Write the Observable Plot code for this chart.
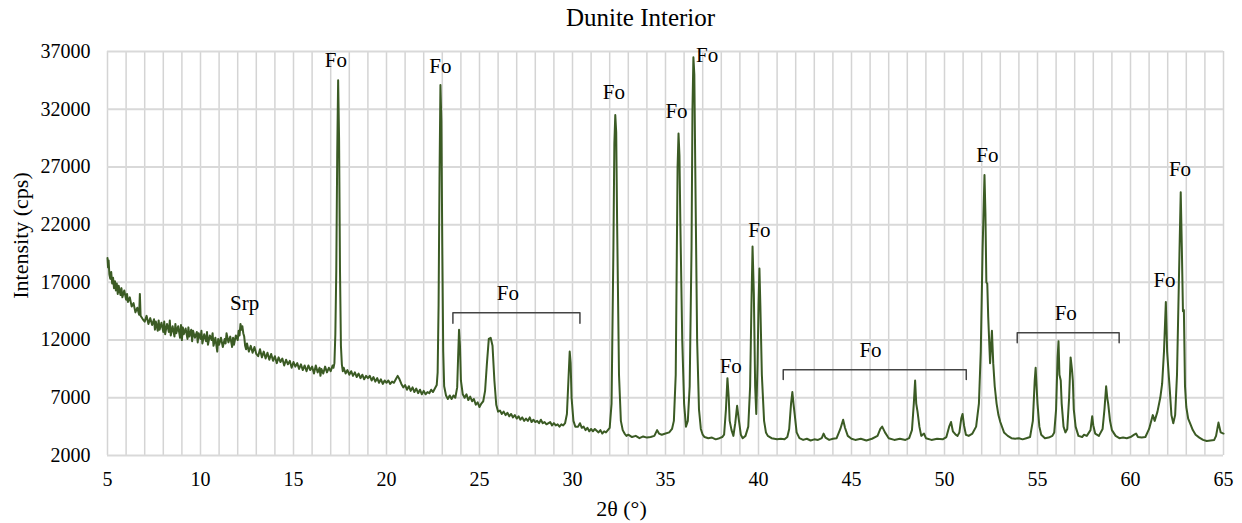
<!DOCTYPE html>
<html><head><meta charset="utf-8">
<script src="https://cdn.jsdelivr.net/npm/d3@7"></script>
<script src="https://cdn.jsdelivr.net/npm/@observablehq/plot@0.6"></script>
<style>body{margin:0;background:#fff;}</style>
</head><body><div id="chart"></div>
<script>
// 2θ (°), intensity (cps)
const seg5to17 = [[5.00,19100],[5.03,18300],[5.06,18900],[5.10,17700],[5.15,17300],[5.20,17900],[5.25,16900],[5.30,17400],[5.35,16500],[5.40,17100],[5.45,16300],[5.50,16900],[5.55,16000],[5.60,16700],[5.70,15900],[5.75,16500],[5.80,15700],[5.90,16300],[6.00,15500],[6.05,16000],[6.10,15300],[6.20,15700],[6.30,14900],[6.40,15200],[6.50,14400],[6.60,14800],[6.70,14200],[6.74,16000],[6.78,14100],[6.90,13800],[7.00,13600],[7.10,14100],[7.20,13400],[7.30,13900],[7.40,13300],[7.50,13800],[7.55,12900],[7.60,13600],[7.70,12800],[7.75,13700],[7.80,12900],[7.90,13500],[8.00,12700],[8.05,13600],[8.10,12500],[8.20,13400],[8.30,12700],[8.35,13700],[8.40,12400],[8.50,13200],[8.60,12300],[8.65,13400],[8.70,12600],[8.80,13200],[8.90,12200],[8.95,13300],[9.00,12000],[9.05,13100],[9.10,12500],[9.20,13000],[9.30,12100],[9.35,13100],[9.40,12300],[9.50,12900],[9.55,11900],[9.60,12800],[9.70,12200],[9.80,12700],[9.85,11800],[9.90,12600],[10.00,12100],[10.05,12800],[10.10,11700],[10.20,12500],[10.30,11900],[10.35,12700],[10.40,11600],[10.50,12400],[10.60,12000],[10.65,12600],[10.70,11500],[10.80,12200],[10.90,11000],[10.95,12100],[11.00,11600],[11.10,12200],[11.20,11400],[11.30,12100],[11.35,11700],[11.40,12600],[11.50,11800],[11.60,12300],[11.70,11400],[11.75,12200],[11.80,11600],[11.90,12400],[12.00,12000],[12.05,12800],[12.10,12400],[12.15,13400],[12.20,12900],[12.25,13200],[12.30,12600],[12.35,12300],[12.40,11500],[12.45,11200],[12.50,11700],[12.60,11000],[12.70,11500],[12.80,10900],[12.90,11400],[13.00,10800],[13.10,10600],[13.20,11200],[13.30,10500],[13.40,11000],[13.50,10400],[13.60,10900],[13.70,10300],[13.80,10800],[13.90,10200],[14.00,10600],[14.10,10000],[14.20,10500],[14.30,10100],[14.40,10400],[14.50,9800],[14.60,10300],[14.70,9900],[14.80,10200],[14.90,9600],[15.00,10100],[15.10,9700],[15.20,10000],[15.30,9500],[15.40,9900],[15.50,9400],[15.60,9800],[15.70,9300],[15.80,9800],[15.90,9400],[16.00,9700],[16.10,9100],[16.20,9800],[16.30,9200],[16.40,9600],[16.45,8900],[16.50,9500],[16.60,9100],[16.70,9700],[16.80,9200],[16.90,9600],[17.00,9300],[17.10,9800],[17.15,9600]];
const seg17to23 = [[17.20,10000],[17.25,12500],[17.30,18000],[17.35,28000],[17.40,34500],[17.45,29500],[17.50,18000],[17.55,11500],[17.60,9900],[17.65,9300],[17.70,9600],[17.80,9100],[17.90,9400],[18.00,9000],[18.10,9300],[18.20,8900],[18.30,9200],[18.40,8800],[18.50,9100],[18.60,8700],[18.70,9000],[18.80,8600],[18.90,8900],[19.00,8700],[19.10,8900],[19.20,8500],[19.30,8800],[19.40,8400],[19.50,8700],[19.60,8300],[19.70,8600],[19.80,8200],[19.90,8500],[20.00,8300],[20.10,8500],[20.20,8200],[20.30,8400],[20.40,8300],[20.50,8600],[20.60,8900],[20.70,8600],[20.80,8200],[20.90,7900],[21.00,8100],[21.10,7700],[21.20,8000],[21.30,7600],[21.40,7900],[21.50,7500],[21.60,7800],[21.70,7400],[21.80,7700],[21.90,7300],[22.00,7600],[22.10,7300],[22.20,7500],[22.30,7400],[22.40,7700],[22.50,7500],[22.60,7800],[22.70,8100],[22.75,9200],[22.80,15000],[22.85,26000],[22.90,34100],[22.95,31000],[23.00,20000],[23.05,11000]];
const seg23to32 = [[23.10,8000],[23.20,7200],[23.30,6900],[23.40,7200],[23.50,6900],[23.60,7200],[23.70,7000],[23.80,7900],[23.85,10500],[23.90,12900],[23.95,11500],[24.00,8500],[24.10,7300],[24.20,7000],[24.30,7300],[24.40,6800],[24.50,7100],[24.60,6700],[24.70,6900],[24.80,6400],[24.90,6600],[25.00,6200],[25.10,6500],[25.20,6700],[25.30,7600],[25.40,10000],[25.50,12100],[25.60,12200],[25.70,11500],[25.80,8500],[25.90,6400],[26.00,5800],[26.10,5900],[26.20,5600],[26.30,5800],[26.40,5500],[26.50,5700],[26.60,5400],[26.70,5600],[26.80,5300],[26.90,5500],[27.00,5200],[27.10,5400],[27.20,5100],[27.30,5300],[27.40,5000],[27.50,5200],[27.60,5000],[27.70,5300],[27.80,4900],[27.90,5100],[28.00,4900],[28.10,5000],[28.20,4800],[28.30,5100],[28.40,4800],[28.50,4900],[28.60,4700],[28.80,4900],[28.90,4600],[29.00,4800],[29.10,4600],[29.20,4700],[29.30,4500],[29.40,4700],[29.50,4600],[29.60,4800],[29.70,5600],[29.78,8500],[29.85,11000],[29.90,10000],[29.95,7000],[30.05,5000],[30.15,4500],[30.30,4500],[30.40,4800],[30.50,4400],[30.60,4500],[30.70,4200],[30.80,4400],[30.90,4100],[31.00,4300],[31.10,4100],[31.20,4300],[31.40,4000],[31.50,4200],[31.60,3900],[31.70,4100],[31.80,4000],[31.90,4200]];
const seg32to41 = [[32.00,4400],[32.10,6500],[32.20,20000],[32.25,29000],[32.30,31500],[32.35,30000],[32.40,22000],[32.50,9000],[32.60,5000],[32.70,4200],[32.80,3900],[32.90,3700],[33.00,3800],[33.20,3600],[33.40,3700],[33.60,3500],[33.80,3650],[34.00,3550],[34.20,3600],[34.40,3700],[34.55,4200],[34.65,3900],[34.80,3800],[35.00,3900],[35.20,4000],[35.35,4300],[35.45,5000],[35.55,9000],[35.60,18000],[35.65,27000],[35.70,29900],[35.75,28000],[35.80,22000],[35.90,12000],[36.00,6500],[36.10,4500],[36.20,5000],[36.30,8000],[36.40,20000],[36.45,32000],[36.50,36500],[36.55,35000],[36.60,27000],[36.70,12000],[36.80,6000],[36.90,4300],[37.00,3800],[37.10,3600],[37.30,3500],[37.50,3550],[37.70,3400],[37.90,3500],[38.05,3600],[38.15,3800],[38.25,6000],[38.33,8700],[38.40,7000],[38.45,5000],[38.55,4200],[38.65,3700],[38.75,4800],[38.85,6300],[38.95,5000],[39.05,3800],[39.15,3500],[39.30,3700],[39.45,4500],[39.55,8000],[39.62,15000],[39.68,20100],[39.75,16000],[39.82,8000],[39.88,5600],[39.95,10000],[40.00,15000],[40.05,18200],[40.10,15000],[40.18,9000],[40.30,5000],[40.40,4000],[40.50,3700],[40.70,3500],[40.85,3450],[41.00,3400],[41.20,3450]];
const seg41to52 = [[41.40,3400],[41.55,3600],[41.65,4300],[41.75,6500],[41.82,7500],[41.88,6500],[41.95,5500],[42.05,4000],[42.20,3500],[42.40,3350],[42.60,3450],[42.80,3300],[43.00,3400],[43.20,3350],[43.40,3500],[43.50,3900],[43.60,3550],[43.80,3350],[44.00,3450],[44.20,3500],[44.40,4300],[44.55,5100],[44.65,4400],[44.80,3700],[45.00,3450],[45.20,3350],[45.50,3450],[45.80,3300],[46.10,3450],[46.40,3700],[46.55,4300],[46.65,4500],[46.80,4000],[47.00,3500],[47.30,3350],[47.60,3450],[47.90,3350],[48.10,3500],[48.25,4200],[48.35,6500],[48.42,8500],[48.48,6500],[48.55,5800],[48.65,4500],[48.75,3700],[48.90,3900],[49.00,3500],[49.30,3350],[49.60,3450],[49.90,3400],[50.10,3600],[50.25,4500],[50.35,4900],[50.45,4100],[50.60,3800],[50.70,3700],[50.80,4000],[50.90,5200],[50.97,5600],[51.05,4600],[51.15,3800],[51.30,3700],[51.50,3900],[51.70,4500],[51.85,6500],[51.95,11000],[52.05,20000]];
const seg52to65 = [[52.15,26300],[52.20,23000],[52.25,17000],[52.30,16900],[52.35,14000],[52.45,10000],[52.55,12800],[52.62,10000],[52.70,8000],[52.80,6500],[52.90,5500],[53.00,4900],[53.20,4000],[53.40,3700],[53.60,3500],[53.80,3450],[54.00,3500],[54.20,3400],[54.40,3500],[54.60,3600],[54.75,5000],[54.85,8500],[54.90,9600],[54.95,8000],[55.00,6500],[55.10,4500],[55.20,3800],[55.40,3500],[55.60,3550],[55.80,3700],[55.90,4000],[56.00,6000],[56.08,10500],[56.13,11900],[56.18,9000],[56.25,8500],[56.30,6500],[56.40,4500],[56.50,4000],[56.60,4300],[56.70,7000],[56.78,10500],[56.85,9500],[56.90,8500],[56.95,6000],[57.05,4500],[57.20,3700],[57.40,3600],[57.50,3800],[57.65,3700],[57.85,4200],[57.94,5400],[58.00,4600],[58.10,3900],[58.30,3700],[58.50,4300],[58.60,6000],[58.69,8000],[58.75,7000],[58.80,6500],[58.90,5000],[59.00,4200],[59.20,3700],[59.40,3500],[59.60,3550],[59.80,3500],[60.00,3600],[60.20,3800],[60.30,3900],[60.40,3600],[60.60,3550],[60.80,3600],[61.00,4300],[61.10,4900],[61.20,5500],[61.30,5000],[61.45,5800],[61.60,7000],[61.70,8200],[61.80,11000],[61.90,15300],[61.97,11000],[62.05,9100],[62.12,7500],[62.20,5500],[62.30,4800],[62.40,5500],[62.50,9000],[62.60,17000],[62.70,24800],[62.76,20000],[62.82,14500],[62.87,14600],[62.93,8000],[63.00,6200],[63.10,5200],[63.20,4800],[63.35,4200],[63.50,3800],[63.70,3550],[63.90,3350],[64.10,3250],[64.30,3300],[64.50,3350],[64.60,3700],[64.68,4400],[64.73,4850],[64.85,4000],[65.00,3900]];

const xTicks = [5, 10, 15, 20, 25, 30, 35, 40, 45, 50, 55, 60, 65];
const yTicks = [2000, 7000, 12000, 17000, 22000, 27000, 32000, 37000];
const xGrid = d3.range(5, 66, 1);

// phase labels: 2θ position, intensity position, text
const labelTheta = [17.28, 22.90, 32.22, 35.59, 37.24, 38.51, 40.05, 52.31, 61.83, 62.66, 12.37, 26.53, 46.02, 56.52];
const labelInt   = [36260, 35740, 33450, 31840, 36700, 9750, 21530, 28000, 17160, 26780, 15170, 16080, 11100, 14300];
const labelText  = ["Fo","Fo","Fo","Fo","Fo","Fo","Fo","Fo","Fo","Fo","Srp","Fo","Fo","Fo"];

// bracketed 2θ ranges
const bracketStart = [23.57, 41.33, 53.91];
const bracketEnd   = [30.40, 51.17, 59.39];
const bracketTop   = [14360, 9420, 12630];
const bracketFoot  = [13460, 8580, 11760];

const pattern = [...seg5to17, ...seg17to23, ...seg23to32, ...seg32to41, ...seg41to52, ...seg52to65].map(([t, i]) => ({t, i}));
const labels = labelText.map((name, k) => ({t: labelTheta[k], i: labelInt[k], name}));
const brackets = bracketStart.flatMap((s, k) => [
  {id: k, t: s, i: bracketFoot[k]},
  {id: k, t: s, i: bracketTop[k]},
  {id: k, t: bracketEnd[k], i: bracketTop[k]},
  {id: k, t: bracketEnd[k], i: bracketFoot[k]}
]);

const font = "'Liberation Serif', 'Times New Roman', serif";

const chart = Plot.plot({
  width: 1242,
  height: 523,
  marginLeft: 107,
  marginRight: 19,
  marginTop: 51,
  marginBottom: 68,
  style: {fontFamily: font, fontSize: "20px", color: "#000", background: "#fff"},
  x: {domain: [5, 65]},
  y: {domain: [2000, 37000]},
  marks: [
    Plot.ruleX(xGrid, {stroke: "#d4d4d4", strokeWidth: 1.5}),
    Plot.ruleY(yTicks, {stroke: "#d9d9d9", strokeWidth: 2}),
    Plot.line(pattern, {x: "t", y: "i", stroke: "#3b5b24", strokeWidth: 2}),
    Plot.line(brackets, {x: "t", y: "i", z: "id", stroke: "#444", strokeWidth: 1.5}),
    Plot.text(labels, {x: "t", y: "i", text: "name", fontSize: 21, lineAnchor: "middle", fill: "#000"}),
    Plot.axisX({ticks: xTicks, tickSize: 0, tickPadding: 16, label: null, fontSize: 20}),
    Plot.axisY({ticks: yTicks, tickSize: 0, tickPadding: 17, label: null, fontSize: 20, tickFormat: d => String(d)}),
    Plot.text(["Dunite Interior"], {frameAnchor: "top", dx: -25, dy: -34, lineAnchor: "middle", fontSize: 25, fill: "#000"}),
    Plot.text(["Intensity (cps)"], {frameAnchor: "left", dx: -87, dy: -18, rotate: -90, textAnchor: "middle", lineAnchor: "middle", fontSize: 22, fill: "#000"}),
    Plot.text(["2θ (°)"], {frameAnchor: "bottom", dx: -44, dy: 53, textAnchor: "middle", lineAnchor: "middle", fontSize: 22, fill: "#000"})
  ]
});
document.getElementById("chart").append(chart);
</script>
</body></html>
